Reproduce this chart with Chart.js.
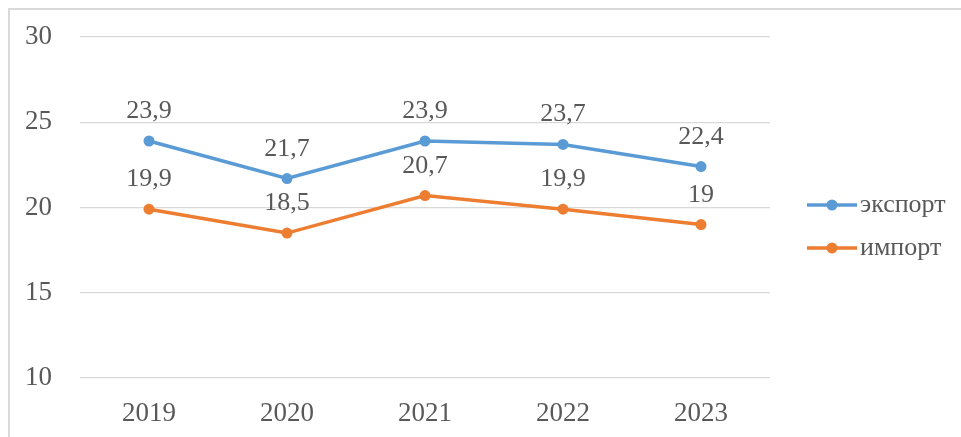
<!DOCTYPE html>
<html>
<head>
<meta charset="utf-8">
<script src="https://cdn.jsdelivr.net/npm/chart.js@4"></script>
<style>
  html, body { margin: 0; padding: 0; background: #fff; }
</style>
</head>
<body>
<canvas id="myChart" width="961" height="437"></canvas>
<script>
var years = ["2019", "2020", "2021", "2022", "2023"];
var exportValues = [23.9, 21.7, 23.9, 23.7, 22.4];
var importValues = [19.9, 18.5, 20.7, 19.9, 19];
var seriesNames = ["экспорт", "импорт"];
var seriesColors = ["#5B9BD5", "#ED7D31"];

var textColor = "#595959";
var fontName = "'Liberation Serif', 'Times New Roman', serif";

// frame, value labels and legend drawn by hand
var extras = {
  id: "extras",
  beforeDraw: function (chart) {
    var ctx = chart.ctx;
    ctx.save();
    ctx.strokeStyle = "#d9d9d9";
    ctx.lineWidth = 2;
    ctx.strokeRect(9, 9, 1000, 1000);
    ctx.restore();
  },
  afterDatasetsDraw: function (chart) {
    var ctx = chart.ctx;
    ctx.save();
    ctx.fillStyle = textColor;
    ctx.font = "26px " + fontName;
    ctx.textAlign = "center";
    ctx.textBaseline = "alphabetic";
    chart.data.datasets.forEach(function (ds, i) {
      chart.getDatasetMeta(i).data.forEach(function (pt, j) {
        var txt = String(ds.data[j]).replace(".", ",");
        ctx.fillText(txt, pt.x, pt.y - 23);
      });
    });

    // legend
    var legendY = [205, 248];
    chart.data.datasets.forEach(function (ds, i) {
      var y = legendY[i];
      ctx.strokeStyle = ds.borderColor;
      ctx.lineWidth = 3.5;
      ctx.beginPath();
      ctx.moveTo(807, y);
      ctx.lineTo(857, y);
      ctx.stroke();
      ctx.fillStyle = ds.borderColor;
      ctx.beginPath();
      ctx.arc(832, y, 5.5, 0, Math.PI * 2);
      ctx.fill();
      ctx.fillStyle = textColor;
      ctx.textAlign = "left";
      ctx.textBaseline = "middle";
      ctx.fillText(ds.label, 860, y);
    });
    ctx.restore();
  }
};

new Chart("myChart", {
  type: "line",
  data: {
    labels: years,
    datasets: [{
      label: seriesNames[0],
      data: exportValues,
      borderColor: seriesColors[0],
      backgroundColor: seriesColors[0],
      borderWidth: 3.5,
      pointRadius: 5.5,
      pointBorderWidth: 0,
      tension: 0
    },
    {
      label: seriesNames[1],
      data: importValues,
      borderColor: seriesColors[1],
      backgroundColor: seriesColors[1],
      borderWidth: 3.5,
      pointRadius: 5.5,
      pointBorderWidth: 0,
      tension: 0
    }]
  },
  options: {
    responsive: false,
    animation: false,
    layout: {
      padding: { top: 37, right: 191, left: 25, bottom: 0 }
    },
    plugins: {
      legend: { display: false },
      tooltip: { enabled: false }
    },
    scales: {
      x: {
        offset: true,
        grid: { display: false, drawTicks: false },
        border: { display: false },
        ticks: {
          color: textColor,
          font: { family: fontName, size: 27 },
          padding: 20
        },
        afterFit: function (scale) { scale.height = 59; }
      },
      y: {
        min: 10,
        max: 30,
        grid: { color: "#d9d9d9", lineWidth: 1.3, drawTicks: false },
        border: { display: false },
        ticks: {
          stepSize: 5,
          color: textColor,
          font: { family: fontName, size: 27 },
          padding: 0,
          crossAlign: "far"
        },
        afterFit: function (scale) { scale.width = 55; }
      }
    }
  },
  plugins: [extras]
});
</script>
</body>
</html>
